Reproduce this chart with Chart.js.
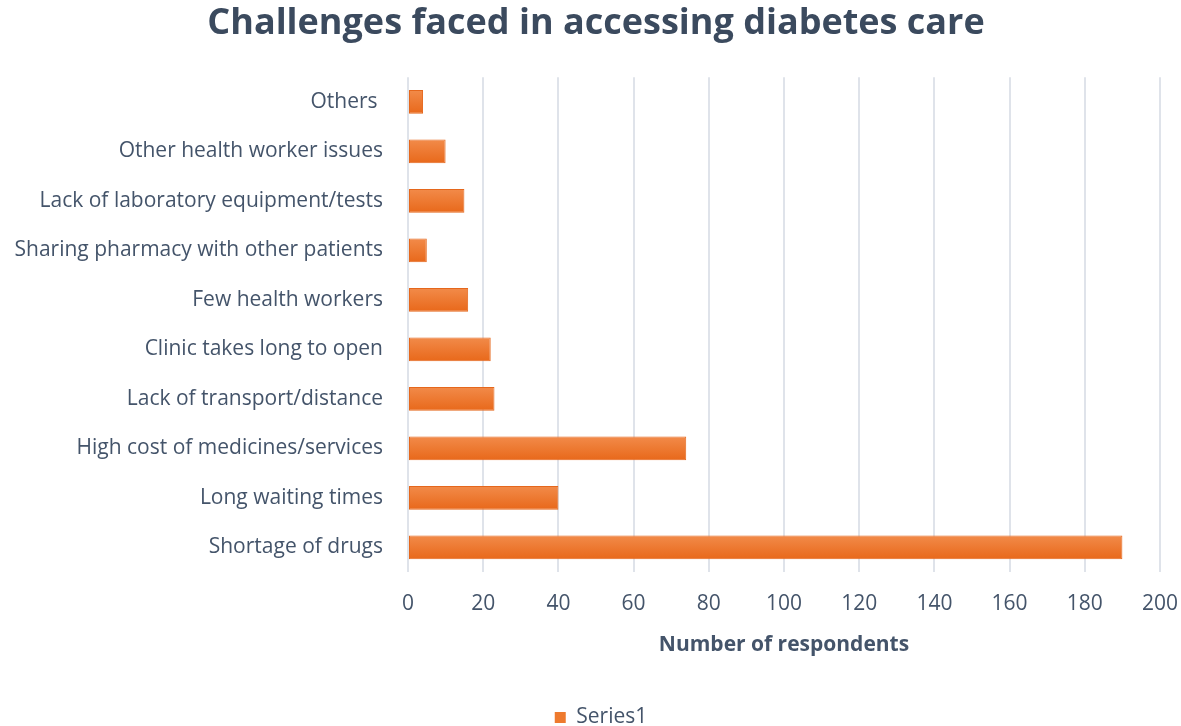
<!DOCTYPE html>
<html>
<head>
<meta charset="utf-8">
<script src="https://cdn.jsdelivr.net/npm/chart.js@4.4.1/dist/chart.umd.min.js"></script>
<style>
    html, body { margin: 0; padding: 0; background: #ffffff; }
    #wrap { width: 1181px; height: 726px; }
</style>
</head>
<body>
<div id="wrap"><canvas id="chartChallenges"></canvas></div>
<script>
const categories = [
    "Others ",
    "Other health worker issues",
    "Lack of laboratory equipment/tests",
    "Sharing pharmacy with other patients",
    "Few health workers",
    "Clinic takes long to open",
    "Lack of transport/distance",
    "High cost of medicines/services",
    "Long waiting times",
    "Shortage of drugs"
];
const series1 = [4, 10, 15, 5, 16, 22, 23, 74, 40, 190];
const xTicks = [0, 20, 40, 60, 80, 100, 120, 140, 160, 180, 200];

const textColor = "#44546a";
const gridColor = "#dfe3ea";
const fontName = "Open Sans";

// slight top-to-bottom shading like the office chart
function barFill(context) {
    const chart = context.chart;
    if (!chart.chartArea) return "#ee7a2e";
    const mid = chart.scales.y.getPixelForValue(context.dataIndex);
    const g = chart.ctx.createLinearGradient(0, mid - 12, 0, mid + 12);
    g.addColorStop(0, "#f28b4a");
    g.addColorStop(1, "#e8681a");
    return g;
}

// title and legend sit a bit right of the canvas centre in the original
const nudgeBlocks = {
    id: "nudgeBlocks",
    afterLayout(chart) {
        chart.titleBlock.left += 16;
        chart.titleBlock.right += 16;
        chart.legend.left += 21;
        chart.legend.right += 21;
    }
};

new Chart(document.getElementById("chartChallenges"), {
    type: "bar",
    data: {
        labels: categories,
        datasets: [{
            label: "Series1",
            data: series1,
            backgroundColor: barFill,
            borderColor: "#e5671c",
            borderWidth: 1,
            borderSkipped: false,
            barPercentage: 0.48,
            categoryPercentage: 1
        }]
    },
    options: {
        indexAxis: "y",
        responsive: true,
        maintainAspectRatio: false,
        animation: false,
        layout: {
            padding: { left: 0, right: 21, top: 0, bottom: 0 }
        },
        plugins: {
            title: {
                display: true,
                text: "Challenges faced in accessing diabetes care",
                color: "#3b4a5e",
                font: { family: fontName, size: 36, weight: "bold" },
                padding: { top: 2, bottom: 32 }
            },
            legend: {
                position: "bottom",
                maxHeight: 19,
                labels: {
                    color: textColor,
                    font: { family: fontName, size: 21 },
                    boxWidth: 11,
                    boxHeight: 11,
                    padding: 0,
                    generateLabels: chart => [{
                        text: "Series1",
                        fillStyle: "#ee7a2e",
                        strokeStyle: "#ee7a2e",
                        lineWidth: 0,
                        fontColor: textColor,
                        datasetIndex: 0
                    }]
                }
            },
            tooltip: { enabled: false }
        },
        scales: {
            x: {
                min: 0,
                max: 200,
                afterBuildTicks: scale => {
                    scale.ticks = xTicks.map(v => ({ value: v }));
                },
                afterFit: scale => {
                    scale.height = 135;
                    scale.paddingLeft = 0;
                    scale.paddingRight = 0;
                },
                ticks: {
                    color: textColor,
                    font: { family: fontName, size: 21 },
                    padding: 19
                },
                grid: {
                    color: gridColor,
                    lineWidth: 2,
                    drawTicks: false
                },
                border: { display: false },
                title: {
                    display: true,
                    text: "Number of respondents",
                    color: textColor,
                    font: { family: fontName, size: 21, weight: "bold" },
                    padding: { top: 0, bottom: 49 }
                }
            },
            y: {
                afterFit: scale => {
                    scale.width = 408;
                },
                ticks: {
                    color: textColor,
                    font: { family: fontName, size: 21 },
                    padding: 25
                },
                grid: { display: false, drawTicks: false },
                border: { display: false }
            }
        }
    },
    plugins: [nudgeBlocks]
});
</script>
</body>
</html>
